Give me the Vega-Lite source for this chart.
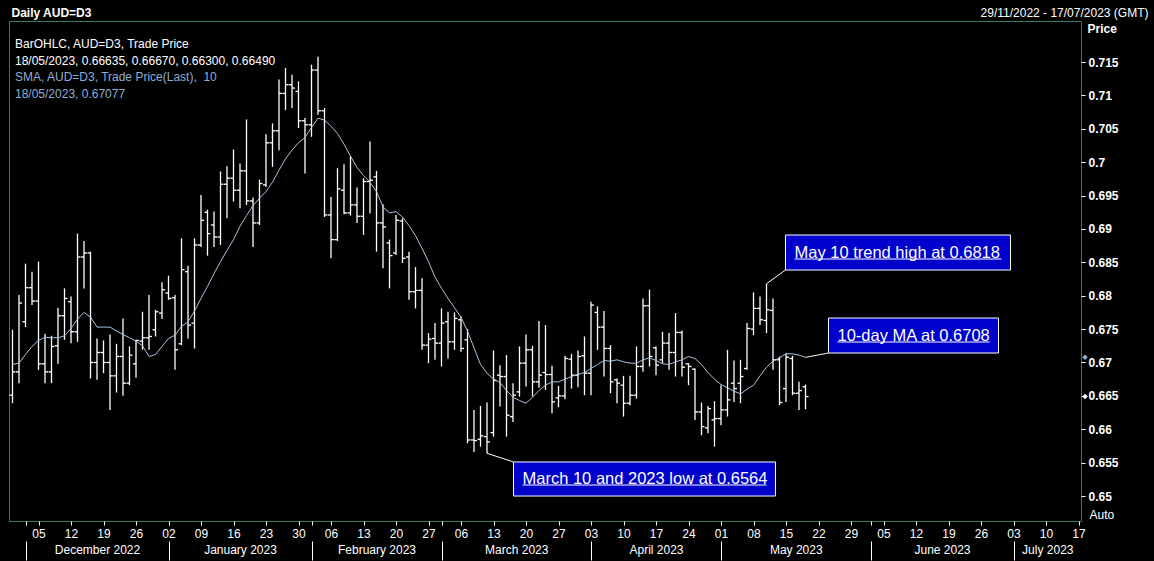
{
  "$schema": "https://vega.github.io/schema/vega-lite/v6.json",
  "width": 1072,
  "height": 500,
  "autosize": {"type": "none"},
  "padding": {"left": 9, "top": 21, "right": 73, "bottom": 40},
  "background": "#000000",
  "title": {
    "text": ["BarOHLC, AUD=D3, Trade Price", "18/05/2023, 0.66635, 0.66670, 0.66300, 0.66490"],
    "subtitle": ["SMA, AUD=D3, Trade Price(Last), \u00a010", "18/05/2023, 0.67077"],
    "anchor": "start",
    "frame": "group",
    "orient": "top",
    "offset": -95,
    "dx": 6,
    "font": "Liberation Sans",
    "fontSize": 12,
    "fontWeight": "normal",
    "color": "#ffffff",
    "lineHeight": 17,
    "subtitleFont": "Liberation Sans",
    "subtitleFontSize": 12,
    "subtitleColor": "#8eaed4",
    "subtitleLineHeight": 17,
    "subtitlePadding": 4
  },
  "datasets": {
    "bars": [
      {"date": "2022-11-29", "day": -4, "o": 0.6651, "h": 0.6749, "l": 0.6639, "c": 0.6686, "sma": 0.6697},
      {"date": "2022-11-30", "day": -3, "o": 0.6686, "h": 0.6801, "l": 0.6669, "c": 0.6789, "sma": 0.6699},
      {"date": "2022-12-01", "day": -2, "o": 0.6761, "h": 0.6848, "l": 0.6753, "c": 0.6812, "sma": 0.6712},
      {"date": "2022-12-02", "day": -1, "o": 0.6812, "h": 0.6836, "l": 0.6786, "c": 0.6792, "sma": 0.6724},
      {"date": "2022-12-05", "day": 0, "o": 0.6792, "h": 0.6851, "l": 0.6689, "c": 0.6698, "sma": 0.6733},
      {"date": "2022-12-06", "day": 1, "o": 0.6698, "h": 0.6743, "l": 0.6669, "c": 0.6686, "sma": 0.6738},
      {"date": "2022-12-07", "day": 2, "o": 0.6686, "h": 0.674, "l": 0.6669, "c": 0.6724, "sma": 0.6737},
      {"date": "2022-12-08", "day": 3, "o": 0.6725, "h": 0.6782, "l": 0.6698, "c": 0.677, "sma": 0.6737},
      {"date": "2022-12-09", "day": 4, "o": 0.677, "h": 0.6811, "l": 0.6734, "c": 0.6796, "sma": 0.674},
      {"date": "2022-12-12", "day": 5, "o": 0.6791, "h": 0.6799, "l": 0.6729, "c": 0.6746, "sma": 0.6751},
      {"date": "2022-12-13", "day": 6, "o": 0.6746, "h": 0.6893, "l": 0.6731, "c": 0.6858, "sma": 0.6765},
      {"date": "2022-12-14", "day": 7, "o": 0.6858, "h": 0.6882, "l": 0.6811, "c": 0.6864, "sma": 0.6775},
      {"date": "2022-12-15", "day": 8, "o": 0.6864, "h": 0.6866, "l": 0.6676, "c": 0.67, "sma": 0.6768},
      {"date": "2022-12-16", "day": 9, "o": 0.67, "h": 0.6736, "l": 0.6674, "c": 0.6715, "sma": 0.6753},
      {"date": "2022-12-19", "day": 10, "o": 0.6715, "h": 0.6733, "l": 0.6684, "c": 0.67, "sma": 0.6753},
      {"date": "2022-12-20", "day": 11, "o": 0.67, "h": 0.6742, "l": 0.6629, "c": 0.668, "sma": 0.6753},
      {"date": "2022-12-21", "day": 12, "o": 0.668, "h": 0.6728, "l": 0.6655, "c": 0.6709, "sma": 0.6747},
      {"date": "2022-12-22", "day": 13, "o": 0.6709, "h": 0.6766, "l": 0.665, "c": 0.6669, "sma": 0.6742},
      {"date": "2022-12-23", "day": 14, "o": 0.6669, "h": 0.6724, "l": 0.6666, "c": 0.6711, "sma": 0.6737},
      {"date": "2022-12-26", "day": 15, "o": 0.6698, "h": 0.6734, "l": 0.6677, "c": 0.6733, "sma": 0.6732},
      {"date": "2022-12-27", "day": 16, "o": 0.6732, "h": 0.6776, "l": 0.6719, "c": 0.6737, "sma": 0.6725},
      {"date": "2022-12-28", "day": 17, "o": 0.6737, "h": 0.6801, "l": 0.6719, "c": 0.6739, "sma": 0.6709},
      {"date": "2022-12-29", "day": 18, "o": 0.6749, "h": 0.6779, "l": 0.6739, "c": 0.6776, "sma": 0.6712},
      {"date": "2022-12-30", "day": 19, "o": 0.6774, "h": 0.682, "l": 0.6765, "c": 0.6809, "sma": 0.6724},
      {"date": "2023-01-02", "day": 20, "o": 0.6804, "h": 0.683, "l": 0.6794, "c": 0.6796, "sma": 0.6736},
      {"date": "2023-01-03", "day": 21, "o": 0.6797, "h": 0.6801, "l": 0.6689, "c": 0.6719, "sma": 0.6741},
      {"date": "2023-01-04", "day": 22, "o": 0.6728, "h": 0.6886, "l": 0.6726, "c": 0.6839, "sma": 0.6754},
      {"date": "2023-01-05", "day": 23, "o": 0.6836, "h": 0.6845, "l": 0.6736, "c": 0.6756, "sma": 0.6761},
      {"date": "2023-01-06", "day": 24, "o": 0.6759, "h": 0.6886, "l": 0.6721, "c": 0.6876, "sma": 0.6777},
      {"date": "2023-01-09", "day": 25, "o": 0.6876, "h": 0.6951, "l": 0.6873, "c": 0.6913, "sma": 0.6796},
      {"date": "2023-01-10", "day": 26, "o": 0.6925, "h": 0.6929, "l": 0.686, "c": 0.6893, "sma": 0.6814},
      {"date": "2023-01-11", "day": 27, "o": 0.6906, "h": 0.6926, "l": 0.6873, "c": 0.6888, "sma": 0.6833},
      {"date": "2023-01-12", "day": 28, "o": 0.6888, "h": 0.6986, "l": 0.6876, "c": 0.6967, "sma": 0.6851},
      {"date": "2023-01-13", "day": 29, "o": 0.6967, "h": 0.6994, "l": 0.6916, "c": 0.6976, "sma": 0.6868},
      {"date": "2023-01-16", "day": 30, "o": 0.6976, "h": 0.7019, "l": 0.6941, "c": 0.6958, "sma": 0.6884},
      {"date": "2023-01-17", "day": 31, "o": 0.6958, "h": 0.6998, "l": 0.6931, "c": 0.6987, "sma": 0.6904},
      {"date": "2023-01-18", "day": 32, "o": 0.6987, "h": 0.7064, "l": 0.6936, "c": 0.6942, "sma": 0.692},
      {"date": "2023-01-19", "day": 33, "o": 0.6942, "h": 0.6947, "l": 0.6873, "c": 0.6909, "sma": 0.6935},
      {"date": "2023-01-20", "day": 34, "o": 0.6909, "h": 0.6974, "l": 0.6906, "c": 0.6968, "sma": 0.6946},
      {"date": "2023-01-23", "day": 35, "o": 0.6966, "h": 0.7042, "l": 0.6963, "c": 0.7029, "sma": 0.6956},
      {"date": "2023-01-24", "day": 36, "o": 0.7029, "h": 0.7058, "l": 0.6993, "c": 0.7047, "sma": 0.697},
      {"date": "2023-01-25", "day": 37, "o": 0.7047, "h": 0.7124, "l": 0.7018, "c": 0.7103, "sma": 0.6988},
      {"date": "2023-01-26", "day": 38, "o": 0.7103, "h": 0.7141, "l": 0.7078, "c": 0.7116, "sma": 0.7005},
      {"date": "2023-01-27", "day": 39, "o": 0.7116, "h": 0.7131, "l": 0.7081, "c": 0.7111, "sma": 0.7018},
      {"date": "2023-01-30", "day": 40, "o": 0.7106, "h": 0.7121, "l": 0.7051, "c": 0.7062, "sma": 0.7029},
      {"date": "2023-01-31", "day": 41, "o": 0.7062, "h": 0.7066, "l": 0.6983, "c": 0.7056, "sma": 0.7037},
      {"date": "2023-02-01", "day": 42, "o": 0.7056, "h": 0.7146, "l": 0.7038, "c": 0.7138, "sma": 0.7052},
      {"date": "2023-02-02", "day": 43, "o": 0.7138, "h": 0.7158, "l": 0.7071, "c": 0.7077, "sma": 0.7066},
      {"date": "2023-02-03", "day": 44, "o": 0.7077, "h": 0.7081, "l": 0.6918, "c": 0.6921, "sma": 0.7063},
      {"date": "2023-02-06", "day": 45, "o": 0.6921, "h": 0.6948, "l": 0.6856, "c": 0.6884, "sma": 0.7054},
      {"date": "2023-02-07", "day": 46, "o": 0.6884, "h": 0.6991, "l": 0.6882, "c": 0.696, "sma": 0.7043},
      {"date": "2023-02-08", "day": 47, "o": 0.6958, "h": 0.6997, "l": 0.6922, "c": 0.6924, "sma": 0.7027},
      {"date": "2023-02-09", "day": 48, "o": 0.6924, "h": 0.7009, "l": 0.692, "c": 0.6936, "sma": 0.7009},
      {"date": "2023-02-10", "day": 49, "o": 0.6936, "h": 0.6962, "l": 0.6909, "c": 0.6919, "sma": 0.6992},
      {"date": "2023-02-13", "day": 50, "o": 0.6919, "h": 0.6976, "l": 0.6891, "c": 0.6971, "sma": 0.698},
      {"date": "2023-02-14", "day": 51, "o": 0.6971, "h": 0.7031, "l": 0.6923, "c": 0.6973, "sma": 0.697},
      {"date": "2023-02-15", "day": 52, "o": 0.6978, "h": 0.6987, "l": 0.6866, "c": 0.6909, "sma": 0.6956},
      {"date": "2023-02-16", "day": 53, "o": 0.6909, "h": 0.6937, "l": 0.6841, "c": 0.6903, "sma": 0.6933},
      {"date": "2023-02-17", "day": 54, "o": 0.6879, "h": 0.6884, "l": 0.6811, "c": 0.686, "sma": 0.6924},
      {"date": "2023-02-20", "day": 55, "o": 0.6864, "h": 0.6921, "l": 0.6861, "c": 0.6913, "sma": 0.6926},
      {"date": "2023-02-21", "day": 56, "o": 0.6912, "h": 0.6916, "l": 0.6849, "c": 0.6856, "sma": 0.6918},
      {"date": "2023-02-22", "day": 57, "o": 0.6858, "h": 0.6866, "l": 0.6794, "c": 0.6806, "sma": 0.6905},
      {"date": "2023-02-23", "day": 58, "o": 0.6806, "h": 0.6843, "l": 0.6781, "c": 0.6808, "sma": 0.689},
      {"date": "2023-02-24", "day": 59, "o": 0.6808, "h": 0.6826, "l": 0.6719, "c": 0.6726, "sma": 0.6871},
      {"date": "2023-02-27", "day": 60, "o": 0.6726, "h": 0.6744, "l": 0.6699, "c": 0.6735, "sma": 0.6851},
      {"date": "2023-02-28", "day": 61, "o": 0.6736, "h": 0.6759, "l": 0.6704, "c": 0.6729, "sma": 0.6828},
      {"date": "2023-03-01", "day": 62, "o": 0.6729, "h": 0.6781, "l": 0.6694, "c": 0.6759, "sma": 0.6811},
      {"date": "2023-03-02", "day": 63, "o": 0.6761, "h": 0.6776, "l": 0.6706, "c": 0.6731, "sma": 0.6796},
      {"date": "2023-03-03", "day": 64, "o": 0.6731, "h": 0.6775, "l": 0.6719, "c": 0.6766, "sma": 0.6782},
      {"date": "2023-03-06", "day": 65, "o": 0.6764, "h": 0.6769, "l": 0.6716, "c": 0.6721, "sma": 0.6768},
      {"date": "2023-03-07", "day": 66, "o": 0.6734, "h": 0.675, "l": 0.6579, "c": 0.6584, "sma": 0.6747},
      {"date": "2023-03-08", "day": 67, "o": 0.6584, "h": 0.6629, "l": 0.6566, "c": 0.6583, "sma": 0.6722},
      {"date": "2023-03-09", "day": 68, "o": 0.6585, "h": 0.6635, "l": 0.6574, "c": 0.659, "sma": 0.6697},
      {"date": "2023-03-10", "day": 69, "o": 0.6589, "h": 0.664, "l": 0.6564, "c": 0.6581, "sma": 0.6684},
      {"date": "2023-03-13", "day": 70, "o": 0.6595, "h": 0.6718, "l": 0.6589, "c": 0.6673, "sma": 0.6675},
      {"date": "2023-03-14", "day": 71, "o": 0.6681, "h": 0.6696, "l": 0.6634, "c": 0.6679, "sma": 0.667},
      {"date": "2023-03-15", "day": 72, "o": 0.6679, "h": 0.6711, "l": 0.6589, "c": 0.6621, "sma": 0.6658},
      {"date": "2023-03-16", "day": 73, "o": 0.6619, "h": 0.6669, "l": 0.6611, "c": 0.6651, "sma": 0.6648},
      {"date": "2023-03-17", "day": 74, "o": 0.6656, "h": 0.6724, "l": 0.6649, "c": 0.6699, "sma": 0.6643},
      {"date": "2023-03-20", "day": 75, "o": 0.6699, "h": 0.6742, "l": 0.6664, "c": 0.6719, "sma": 0.6639},
      {"date": "2023-03-21", "day": 76, "o": 0.6719, "h": 0.6725, "l": 0.6649, "c": 0.6671, "sma": 0.6648},
      {"date": "2023-03-22", "day": 77, "o": 0.6671, "h": 0.6762, "l": 0.6662, "c": 0.6681, "sma": 0.6658},
      {"date": "2023-03-23", "day": 78, "o": 0.6685, "h": 0.6756, "l": 0.6659, "c": 0.6682, "sma": 0.6666},
      {"date": "2023-03-24", "day": 79, "o": 0.6682, "h": 0.6695, "l": 0.6624, "c": 0.6641, "sma": 0.6671},
      {"date": "2023-03-27", "day": 80, "o": 0.6647, "h": 0.6665, "l": 0.6633, "c": 0.665, "sma": 0.6671},
      {"date": "2023-03-28", "day": 81, "o": 0.665, "h": 0.671, "l": 0.6645, "c": 0.6706, "sma": 0.6675},
      {"date": "2023-03-29", "day": 82, "o": 0.6705, "h": 0.6713, "l": 0.6661, "c": 0.6681, "sma": 0.6679},
      {"date": "2023-03-30", "day": 83, "o": 0.6681, "h": 0.6718, "l": 0.6663, "c": 0.6709, "sma": 0.6682},
      {"date": "2023-03-31", "day": 84, "o": 0.671, "h": 0.6739, "l": 0.6651, "c": 0.6684, "sma": 0.6685},
      {"date": "2023-04-03", "day": 85, "o": 0.6684, "h": 0.6791, "l": 0.6651, "c": 0.6786, "sma": 0.6691},
      {"date": "2023-04-04", "day": 86, "o": 0.6775, "h": 0.6784, "l": 0.6719, "c": 0.6753, "sma": 0.6697},
      {"date": "2023-04-05", "day": 87, "o": 0.6753, "h": 0.6777, "l": 0.6679, "c": 0.6721, "sma": 0.6703},
      {"date": "2023-04-06", "day": 88, "o": 0.6721, "h": 0.6726, "l": 0.6654, "c": 0.6671, "sma": 0.6702},
      {"date": "2023-04-07", "day": 89, "o": 0.6674, "h": 0.6676, "l": 0.6639, "c": 0.6669, "sma": 0.6704},
      {"date": "2023-04-10", "day": 90, "o": 0.6666, "h": 0.668, "l": 0.6619, "c": 0.6639, "sma": 0.6701},
      {"date": "2023-04-11", "day": 91, "o": 0.6639, "h": 0.668, "l": 0.6636, "c": 0.6651, "sma": 0.6699},
      {"date": "2023-04-12", "day": 92, "o": 0.6651, "h": 0.6724, "l": 0.6646, "c": 0.6694, "sma": 0.6699},
      {"date": "2023-04-13", "day": 93, "o": 0.6694, "h": 0.6796, "l": 0.6686, "c": 0.6785, "sma": 0.6704},
      {"date": "2023-04-14", "day": 94, "o": 0.6785, "h": 0.6809, "l": 0.6694, "c": 0.6709, "sma": 0.6707},
      {"date": "2023-04-17", "day": 95, "o": 0.6722, "h": 0.6724, "l": 0.6681, "c": 0.6696, "sma": 0.6703},
      {"date": "2023-04-18", "day": 96, "o": 0.6704, "h": 0.6746, "l": 0.6699, "c": 0.6729, "sma": 0.6698},
      {"date": "2023-04-19", "day": 97, "o": 0.6729, "h": 0.6744, "l": 0.6689, "c": 0.6715, "sma": 0.6697},
      {"date": "2023-04-20", "day": 98, "o": 0.6715, "h": 0.6774, "l": 0.6679, "c": 0.6745, "sma": 0.6701},
      {"date": "2023-04-21", "day": 99, "o": 0.6745, "h": 0.6748, "l": 0.6679, "c": 0.6693, "sma": 0.6704},
      {"date": "2023-04-24", "day": 100, "o": 0.6698, "h": 0.6699, "l": 0.6666, "c": 0.6694, "sma": 0.6709},
      {"date": "2023-04-25", "day": 101, "o": 0.669, "h": 0.6691, "l": 0.6614, "c": 0.6626, "sma": 0.6706},
      {"date": "2023-04-26", "day": 102, "o": 0.6626, "h": 0.664, "l": 0.6591, "c": 0.6604, "sma": 0.6697},
      {"date": "2023-04-27", "day": 103, "o": 0.6602, "h": 0.6635, "l": 0.6594, "c": 0.6631, "sma": 0.6685},
      {"date": "2023-04-28", "day": 104, "o": 0.6614, "h": 0.6642, "l": 0.6574, "c": 0.6616, "sma": 0.6675},
      {"date": "2023-05-01", "day": 105, "o": 0.6616, "h": 0.6666, "l": 0.6606, "c": 0.6629, "sma": 0.6667},
      {"date": "2023-05-02", "day": 106, "o": 0.6629, "h": 0.6719, "l": 0.6619, "c": 0.6644, "sma": 0.6662},
      {"date": "2023-05-03", "day": 107, "o": 0.6669, "h": 0.6703, "l": 0.6641, "c": 0.6661, "sma": 0.6657},
      {"date": "2023-05-04", "day": 108, "o": 0.6669, "h": 0.6704, "l": 0.6639, "c": 0.6679, "sma": 0.6653},
      {"date": "2023-05-05", "day": 109, "o": 0.6691, "h": 0.6759, "l": 0.6689, "c": 0.6751, "sma": 0.666},
      {"date": "2023-05-08", "day": 110, "o": 0.675, "h": 0.6805, "l": 0.6741, "c": 0.6781, "sma": 0.6666},
      {"date": "2023-05-09", "day": 111, "o": 0.6781, "h": 0.6799, "l": 0.6756, "c": 0.6764, "sma": 0.668},
      {"date": "2023-05-10", "day": 112, "o": 0.6763, "h": 0.6818, "l": 0.6744, "c": 0.6779, "sma": 0.6693},
      {"date": "2023-05-11", "day": 113, "o": 0.6778, "h": 0.6796, "l": 0.6689, "c": 0.6704, "sma": 0.6702},
      {"date": "2023-05-12", "day": 114, "o": 0.6704, "h": 0.6709, "l": 0.6636, "c": 0.664, "sma": 0.6707},
      {"date": "2023-05-15", "day": 115, "o": 0.6661, "h": 0.6714, "l": 0.6641, "c": 0.6708, "sma": 0.6713},
      {"date": "2023-05-16", "day": 116, "o": 0.6706, "h": 0.671, "l": 0.6651, "c": 0.6654, "sma": 0.6713},
      {"date": "2023-05-17", "day": 117, "o": 0.6654, "h": 0.6671, "l": 0.6629, "c": 0.6658, "sma": 0.6711},
      {"date": "2023-05-18", "day": 118, "o": 0.66635, "h": 0.6667, "l": 0.663, "c": 0.6649, "sma": 0.67077}
    ],
    "notes": [
      {"label": "May 10 trend high at 0.6818", "ax": 112, "ay": 0.6818, "x1": 114.92, "x2": 149.54, "y1": 0.68909, "y2": 0.68385, "cy": 0.68385},
      {"label": "10-day MA at 0.6708", "ax": 118, "ay": 0.67077, "x1": 121.54, "x2": 147.69, "y1": 0.67666, "y2": 0.67142, "cy": 0.67142},
      {"label": "March 10 and 2023 low at 0.6564", "ax": 69, "ay": 0.6564, "x1": 73.08, "x2": 113.38, "y1": 0.6551, "y2": 0.65, "cy": 0.6551}
    ],
    "months": [
      {"month": "December 2022", "start": -2, "mid": 9},
      {"month": "January 2023", "start": 20, "mid": 31},
      {"month": "February 2023", "start": 42, "mid": 52},
      {"month": "March 2023", "start": 62, "mid": 73.5},
      {"month": "April 2023", "start": 85, "mid": 95},
      {"month": "May 2023", "start": 105, "mid": 116.5},
      {"month": "June 2023", "start": 128, "mid": 139},
      {"month": "July 2023", "start": 150, "mid": 155.2}
    ],
    "last": [
      {"series": "SMA", "value": 0.67077},
      {"series": "Close", "value": 0.6649}
    ]
  },
  "layer": [
    {
      "data": {"name": "bars"},
      "layer": [
        {
          "mark": {"type": "rule", "color": "#ffffff", "strokeWidth": 1.3},
          "encoding": {
            "x": {
              "field": "day", "type": "quantitative",
              "scale": {"domain": [-4.5385, 160.3846], "nice": false, "zero": false},
              "axis": {
                "orient": "bottom",
                "values": [-2, 0, 5, 10, 15, 20, 25, 30, 35, 40, 42, 45, 50, 55, 60, 62, 65, 70, 75, 80, 85, 90, 95, 100, 105, 110, 115, 120, 125, 128, 130, 135, 140, 145, 150, 155, 160],
                "tickCount": 200,
                "labelExpr": "datum.value >= 0 && datum.value % 5 == 0 ? timeFormat(datetime(2022, 11, 5 + 7 * datum.value / 5), '%d') : ''",
                "tickSize": 4,
                "labelPadding": 3,
                "labelFlush": false,
                "labelOverlap": false,
                "labelBound": false,
                "title": "Auto",
                "titleFontWeight": "normal",
                "titleAlign": "left",
                "titleBaseline": "middle",
                "titleX": 1080,
                "titleY": -7
              }
            },
            "y": {
              "field": "l", "type": "quantitative",
              "scale": {"domain": [0.64626, 0.721145], "nice": false, "zero": false},
              "axis": {
                "orient": "right",
                "values": [0.65, 0.655, 0.66, 0.665, 0.67, 0.675, 0.68, 0.685, 0.69, 0.695, 0.7, 0.705, 0.71, 0.715],
                "tickCount": 200,
                "format": ".3~f",
                "labelFontWeight": "bold",
                "tickSize": 4,
                "labelPadding": 3,
                "labelFlush": false,
                "labelOverlap": false,
                "title": "Price",
                "titleAngle": 0,
                "titleAlign": "left",
                "titleBaseline": "middle",
                "titleX": 6,
                "titleY": 7,
                "titleFontWeight": "bold"
              }
            },
            "y2": {"field": "h"}
          }
        },
        {
          "mark": {"type": "rule", "color": "#ffffff", "strokeWidth": 1.3, "xOffset": -3},
          "encoding": {
            "x": {"field": "day", "type": "quantitative"},
            "x2": {"field": "day"},
            "y": {"field": "o", "type": "quantitative"}
          }
        },
        {
          "mark": {"type": "rule", "color": "#ffffff", "strokeWidth": 1.3, "x2Offset": 3},
          "encoding": {
            "x": {"field": "day", "type": "quantitative"},
            "x2": {"field": "day"},
            "y": {"field": "c", "type": "quantitative"}
          }
        },
        {
          "mark": {"type": "line", "color": "#a9c4e2", "strokeWidth": 1},
          "encoding": {
            "x": {"field": "day", "type": "quantitative"},
            "y": {"field": "sma", "type": "quantitative"}
          }
        },
        {
          "data": {"name": "notes"},
          "mark": {"type": "rule", "color": "#ffffff", "strokeWidth": 1, "clip": false},
          "encoding": {
            "x": {"field": "ax", "type": "quantitative"},
            "x2": {"field": "x1"},
            "y": {"field": "ay", "type": "quantitative"},
            "y2": {"field": "cy"}
          }
        },
        {
          "data": {"name": "notes"},
          "mark": {"type": "rect", "fill": "#0000cc", "stroke": "#ffffff", "strokeWidth": 1, "clip": false},
          "encoding": {
            "x": {"field": "x1", "type": "quantitative"},
            "x2": {"field": "x2"},
            "y": {"field": "y1", "type": "quantitative"},
            "y2": {"field": "y2"}
          }
        },
        {
          "data": {"name": "notes"},
          "mark": {"type": "text", "color": "#ffffff", "font": "Liberation Sans", "fontSize": 16.5, "align": "left", "baseline": "middle", "dx": 9, "dy": -17.5, "clip": false},
          "encoding": {
            "x": {"field": "x1", "type": "quantitative"},
            "y": {"field": "y2", "type": "quantitative"},
            "text": {"field": "label"}
          }
        },
        {
          "data": {"name": "notes"},
          "mark": {"type": "rule", "color": "#ffffff", "strokeWidth": 1, "xOffset": 9, "x2Offset": -9, "yOffset": -11, "clip": false},
          "encoding": {
            "x": {"field": "x1", "type": "quantitative"},
            "x2": {"field": "x2"},
            "y": {"field": "y2", "type": "quantitative"}
          }
        },
        {
          "data": {"name": "last"},
          "mark": {"type": "point", "shape": "diamond", "filled": true, "size": 30, "opacity": 1, "clip": false},
          "encoding": {
            "x": {"datum": 161, "type": "quantitative"},
            "y": {"field": "value", "type": "quantitative"},
            "color": {"field": "series", "type": "nominal", "scale": {"domain": ["Close", "SMA"], "range": ["#ffffff", "#8eaed4"]}, "legend": null}
          }
        }
      ]
    },
    {
      "data": {"name": "months"},
      "mark": {"type": "point", "opacity": 0},
      "encoding": {
        "x": {
          "field": "mid", "type": "quantitative",
          "scale": {"domain": [-4.5385, 160.3846], "nice": false, "zero": false},
          "axis": {
            "orient": "bottom",
            "offset": 23,
            "values": [9, 31, 52, 73.5, 95, 116.5, 139, 155.2],
            "tickCount": 200,
            "labelExpr": "datum.value < 20 ? 'December 2022' : datum.value < 42 ? 'January 2023' : datum.value < 62 ? 'February 2023' : datum.value < 85 ? 'March 2023' : datum.value < 105 ? 'April 2023' : datum.value < 128 ? 'May 2023' : datum.value < 150 ? 'June 2023' : 'July 2023'",
            "ticks": false,
            "tickSize": 0,
            "labelPadding": 0,
            "labelBaseline": "top",
            "title": "Daily AUD=D3",
            "titleFontWeight": "bold",
            "titleAlign": "left",
            "titleBaseline": "middle",
            "titleAnchor": "start",
            "titleX": 2,
            "titleY": -532
          }
        }
      }
    },
    {
      "data": {"name": "months"},
      "mark": {"type": "point", "opacity": 0},
      "encoding": {
        "x": {
          "field": "start", "type": "quantitative",
          "scale": {"domain": [-4.5385, 160.3846], "nice": false, "zero": false},
          "axis": {
            "orient": "bottom",
            "offset": 20,
            "values": [-2, 20, 42, 62, 85, 105, 128, 150],
            "tickCount": 200,
            "labels": false,
            "tickSize": 19,
            "title": "29/11/2022 - 17/07/2023 (GMT)",
            "titleFontWeight": "normal",
            "titleAlign": "right",
            "titleBaseline": "middle",
            "titleX": 1139,
            "titleY": -529
          }
        }
      }
    }
  ],
  "resolve": {"scale": {"x": "independent"}},
  "config": {
    "font": "Liberation Sans",
    "view": {"stroke": "#357a66", "strokeWidth": 1},
    "axis": {
      "grid": false,
      "domain": false,
      "labelOverlap": false,
      "labelFlush": false,
      "labelBound": false,
      "labelColor": "#ffffff",
      "tickColor": "#ffffff",
      "titleColor": "#ffffff",
      "labelFont": "Liberation Sans",
      "titleFont": "Liberation Sans",
      "labelFontSize": 12,
      "titleFontSize": 12
    }
  }
}
